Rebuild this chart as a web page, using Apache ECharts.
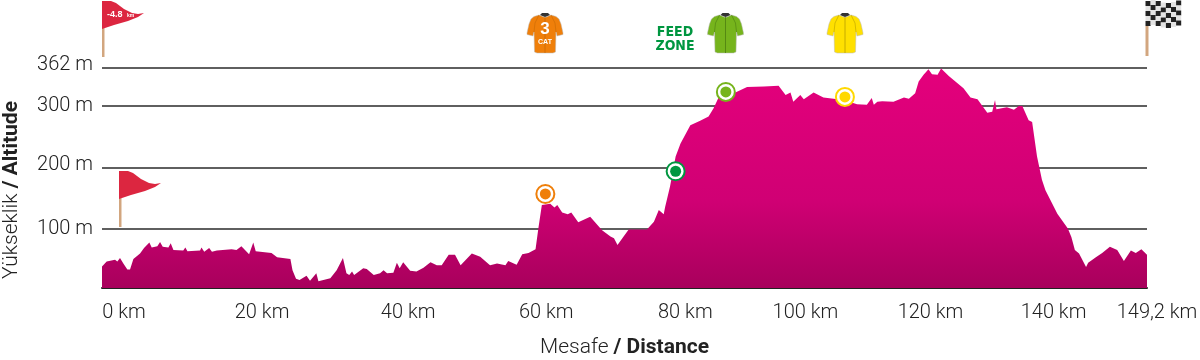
<!DOCTYPE html>
<html>
<head>
<meta charset="utf-8">
<style>
  html, body { margin: 0; padding: 0; background: #fff; }
  #chart { width: 1200px; height: 360px; }
</style>
<script src="https://cdn.jsdelivr.net/npm/echarts@6/dist/echarts.min.js"></script>
</head>
<body>
<div id="chart"></div>
<script>
// profile
const kmValues = [
  0, 0.67, 1.86, 2.19, 2.57, 3.05, 3.62, 4, 4.48, 5.43, 6, 6.76, 7.1, 7.9, 8.29, 8.67, 9.48, 9.81, 10.2, 11.6,
  11.9, 12.2, 14, 14.2, 14.6, 15.3, 15.7, 16.4, 18.5, 19.2, 19.9, 21, 21.6, 21.95, 24.2, 25, 26.9, 27.2, 27.7, 28.2,
  29.2, 29.7, 30.6, 30.9, 32.6, 33.5, 34.4, 34.9, 35.3, 35.7, 36, 37.3, 37.8, 38.8, 39.7, 40.2, 40.7, 41.6, 42.1, 42.5,
  43, 44, 44.9, 45.9, 46.9, 47.8, 48.5, 49.5, 50.4, 51.2, 52.8, 54, 55.4, 56.4, 57.6, 58, 59.2, 60, 60.9, 61.9,
  62.3, 62.8, 64, 64.6, 65, 65.7, 66.5, 67, 68, 69.7, 71.4, 72.6, 73.1, 73.6, 74.6, 75.2, 77.8, 78.8, 79.5, 80.2,
  80.4, 81.1, 81.9, 82.6, 84, 85.4, 86.6, 87.3, 88, 90.2, 92.1, 94.5, 96.6, 97.6, 98.3, 98.7, 99.7, 100.2, 101.6, 103,
  105.9, 107.8, 109.2, 109.9, 110.2, 110.7, 111.4, 113, 114.5, 115.2, 116.1, 116.6, 117.3, 118, 118.5, 119.3, 119.8, 120.9, 123, 124,
  125, 126.4, 127.1, 127.5, 127.7, 129.2, 130.2, 130.9, 131.4, 132.3, 132.8, 133.5, 134.2, 134.7, 136.4, 137.9, 138.4, 138.9, 139.5, 140.5,
  140.8, 141.9, 142.8, 143.9, 144.95, 145.9, 146.9, 147.6, 148.4, 149.2
];
const altValues = [
  39, 47, 50, 47, 53, 44, 34, 34, 51, 60, 69, 78, 70, 72, 79, 71, 70, 77, 66, 65,
  70, 64, 65, 70, 63, 69, 63, 65, 67, 66, 72, 59, 78, 64, 61, 54, 51, 33, 19, 17,
  24, 16, 28, 15, 20, 33, 53, 28, 25, 31, 25, 36, 35, 25, 28, 33, 28, 29, 45, 36,
  46, 32, 31, 37, 46, 41, 41, 58, 58, 41, 60, 55, 41, 44, 41, 48, 42, 59, 61, 67,
  101, 139, 141, 135, 139, 127, 124, 127, 111, 120, 98, 88, 85, 74, 90, 99, 99, 112, 131, 124,
  136, 169, 218, 239, 269, 276, 283, 296, 313, 321, 331, 332, 333, 318, 322, 307, 318, 311, 322, 314,
  310, 303, 302, 313, 302, 307, 308, 307, 314, 312, 321, 340, 351, 360, 352, 351, 361, 349, 329, 314,
  311, 289, 291, 310, 295, 298, 294, 300, 300, 277, 274, 218, 180, 163, 125, 101, 87, 66, 60, 38,
  45, 54, 61, 71, 66, 48, 65, 61, 67, 58
];

const altTicks = [100, 200, 300, 362];
const kmTicks = [0, 20, 40, 60, 80, 100, 120, 140, 149.2];
const kmTickLabels = ['0 km', '20 km', '40 km', '60 km', '80 km', '100 km', '120 km', '140 km', '149,2 km'];

// the km labels sit off their ticks in the original
const kmLabelShift = [22, 20, 26, 24, 23, 3, -12, -29, 10];
const altLabelShift = { 362: -3, 200: -3 };

// climbs and feed zone on the profile
const orangePoint = [[63.3, 157]];
const feedPoint = [[81.9, 194]];
const limePoint = [[89.07, 323]];
const yellowPoint = [[106.07, 315]];

const TEXT = '#222';
const FONT = 'Roboto';

const chart = echarts.init(document.getElementById('chart'), null, { renderer: 'canvas' });

const xRich = {};
kmTicks.forEach((t, i) => {
  const s = kmLabelShift[i];
  xRich['k' + i] = {
    fontFamily: FONT, fontSize: 20, fontWeight: 300, color: TEXT,
    padding: s >= 0 ? [0, 0, 0, s * 2] : [0, -s * 2, 0, 0]
  };
});

function ringSeries(points, color) {
  return [
    {
      type: 'scatter', data: points, symbolSize: 18, z: 5, silent: true,
      itemStyle: { color: '#fff', borderColor: color, borderWidth: 2, opacity: 1 }
    },
    {
      type: 'scatter', data: points, symbolSize: 11, z: 6, silent: true,
      itemStyle: { color: color, opacity: 1 }
    }
  ];
}

function jersey(cx, color, seam, extra) {
  return {
    type: 'group', x: cx, y: 13,
    children: [
      {
        type: 'polygon',
        shape: { points: [[-6, 2], [-11, 3.5], [-14, 6], [-16, 11], [-18, 20], [-18, 21.5], [-12, 23], [-11, 19], [-10.5, 39], [-8, 40], [8, 40], [10.5, 39], [11, 19], [12, 23], [18, 21.5], [18, 20], [16, 11], [14, 6], [11, 3.5], [6, 2], [0, 4.5]] },
        style: { fill: color, stroke: '#bbb', lineWidth: 0.5 }
      },
      { type: 'polygon', shape: { points: [[-5, 2], [-3, 0], [3, 0], [5, 2], [0, 4]] }, style: { fill: '#333' } },
      { type: 'polyline', shape: { points: [[0, 4], [0, 40]] }, style: { stroke: seam, lineWidth: 0.8, fill: null } },
      { type: 'polyline', shape: { points: [[-6, 2], [-10, 10], [-11, 19]] }, style: { stroke: seam, lineWidth: 0.6, fill: null } },
      { type: 'polyline', shape: { points: [[6, 2], [10, 10], [11, 19]] }, style: { stroke: seam, lineWidth: 0.6, fill: null } }
    ].concat(extra || [])
  };
}

function redFlag(x, y, poleEnd, extra) {
  return {
    type: 'group', x: x, y: y,
    children: [
      { type: 'rect', shape: { x: 0, y: 27, width: 2.5, height: poleEnd - 27 }, style: { fill: '#d2a67f' } },
      {
        type: 'polygon',
        shape: { points: [[0, 0], [9, 0], [14, 2], [22, 8], [30, 12], [36, 13], [42, 12], [36, 16], [26, 20], [12, 24], [0, 28]] },
        style: { fill: '#dc2640' }
      }
    ].concat(extra || [])
  };
}

// checkered finish flag
const waveY = [1, 0, 1, 2.5, 3, 2, 0.5];
const checks = [];
for (let c = 0; c < 7; c++) {
  for (let r = 0; r < 5; r++) {
    checks.push({
      type: 'rect',
      shape: { x: c * 5.1, y: r * 5 + waveY[c], width: 5.1, height: 5 },
      style: { fill: (c + r) % 2 === 0 ? '#222' : '#e4e4e4' }
    });
  }
}

const graphics = [
  redFlag(102, 1, 56, [
    { type: 'text', x: 5, y: 9, style: { text: '-4.8', fill: '#fff', font: 'bold 9px "Liberation Sans"' } },
    { type: 'text', x: 25, y: 12, style: { text: 'km', fill: '#fff', font: 'bold 5px "Liberation Sans"' } }
  ]),
  redFlag(119, 171, 56),
  jersey(545, '#ef7f0a', '#c86a05', [
    { type: 'text', x: 0, y: 8, style: { text: '3', fill: '#fff', font: 'bold 17px "Liberation Sans"', align: 'center' } },
    { type: 'text', x: 0, y: 26, style: { text: 'CAT', fill: '#fff', font: 'bold 7px "Liberation Sans"', align: 'center' } }
  ]),
  jersey(725.5, '#76b41c', '#4c7d10'),
  jersey(845, '#ffe000', '#b8a000'),
  { type: 'text', x: 675, y: 25, style: { text: 'FEED', fill: '#009640', font: 'bold 14px "DejaVu Sans Condensed"', align: 'center' } },
  { type: 'text', x: 675, y: 39, style: { text: 'ZONE', fill: '#009640', font: 'bold 14px "DejaVu Sans Condensed"', align: 'center' } },
  {
    type: 'group', x: 1145.5, y: 0,
    children: [
      { type: 'rect', shape: { x: 0, y: 26, width: 3, height: 30 }, style: { fill: '#d2a67f' } }
    ].concat(checks)
  }
];

const option = {
  animation: false,
  backgroundColor: '#fff',
  grid: { left: 102, right: 53, top: 68, bottom: 72, outerBoundsMode: 'none' },
  xAxis: {
    type: 'value',
    min: 0,
    max: 149.2,
    name: '{a|Mesafe }{b|/ Distance}',
    nameLocation: 'middle',
    nameGap: 49,
    nameTextStyle: {
      rich: {
        a: { fontFamily: FONT, fontSize: 21, fontWeight: 300, color: TEXT },
        b: { fontFamily: FONT, fontSize: 21, fontWeight: 'bold', color: TEXT }
      }
    },
    axisLine: { show: true, lineStyle: { color: '#222', width: 2 } },
    axisTick: { show: false, customValues: kmTicks },
    splitLine: { show: false },
    axisLabel: {
      customValues: kmTicks,
      margin: 15,
      hideOverlap: false,
      showMinLabel: true,
      showMaxLabel: true,
      formatter: v => {
        const i = kmTicks.indexOf(v);
        return '{k' + i + '|' + kmTickLabels[i] + '}';
      },
      rich: xRich
    }
  },
  yAxis: {
    type: 'value',
    min: 4,
    max: 362,
    name: '{a|Yükseklik }{b|/ Altitude}',
    nameLocation: 'middle',
    nameGap: 80,
    nameRotate: 90,
    nameTextStyle: {
      padding: [0, 24, 0, 0],
      rich: {
        a: { fontFamily: FONT, fontSize: 21, fontWeight: 300, color: TEXT },
        b: { fontFamily: FONT, fontSize: 21, fontWeight: 'bold', color: TEXT }
      }
    },
    axisLine: { show: false },
    axisTick: { show: false, customValues: altTicks },
    splitLine: { show: true, lineStyle: { color: '#2a2a2a', width: 1.5 } },
    axisLabel: {
      customValues: altTicks,
      margin: 9,
      showMinLabel: true,
      showMaxLabel: true,
      formatter: v => (altLabelShift[v] ? '{up' + v + '|' + v + ' m}' : '{n|' + v + ' m}'),
      rich: {
        n: { fontFamily: FONT, fontSize: 20, fontWeight: 300, color: TEXT },
        up362: { fontFamily: FONT, fontSize: 20, fontWeight: 300, color: TEXT, padding: [0, 0, 6, 0] },
        up200: { fontFamily: FONT, fontSize: 20, fontWeight: 300, color: TEXT, padding: [0, 0, 6, 0] }
      }
    }
  },
  series: [
    {
      type: 'line',
      data: kmValues.map((k, i) => [k, altValues[i]]),
      showSymbol: false,
      silent: true,
      z: 3,
      lineStyle: { width: 0 },
      areaStyle: {
        opacity: 1,
        color: new echarts.graphic.LinearGradient(0, 0, 0, 1, [
          { offset: 0, color: '#e4007c' },
          { offset: 0.6, color: '#d00074' },
          { offset: 1, color: '#a8005c' }
        ])
      }
    }
  ].concat(
    ringSeries(orangePoint, '#ef7f0a'),
    ringSeries(feedPoint, '#009640'),
    ringSeries(limePoint, '#76b41c'),
    ringSeries(yellowPoint, '#ffd800')
  ),
  graphic: graphics
};

chart.setOption(option);
window.addEventListener('resize', () => chart.resize());
</script>
</body>
</html>
